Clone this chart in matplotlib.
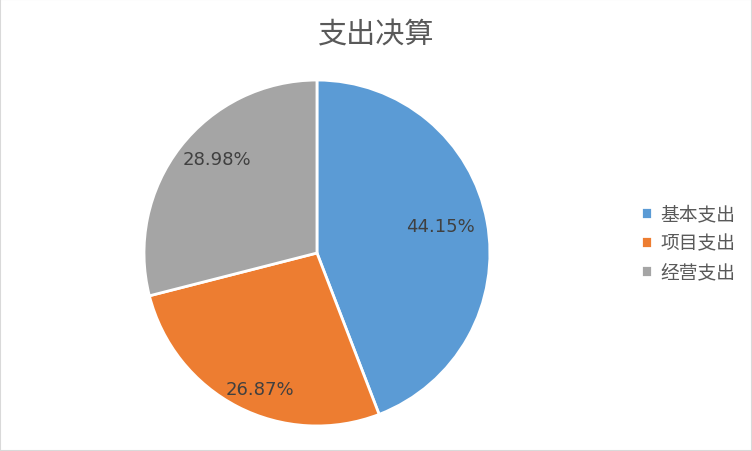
import numpy as np
import matplotlib.pyplot as plt
from matplotlib.patches import Rectangle

plt.rcParams['font.family'] = ['Noto Sans CJK SC', 'DejaVu Sans']

categories = ["基本支出", "项目支出", "经营支出"]
values = [44.15, 26.87, 28.98]
colors = ["#5B9BD5", "#ED7D31", "#A5A5A5"]
title = "支出决算"

fig = plt.figure(figsize=(7.52, 4.52), dpi=100)
ax = fig.add_axes([0.1915, 0.0553, 0.460, 0.7655])

wedges, texts, autotexts = ax.pie(
    values, colors=colors, startangle=90, counterclock=False,
    autopct=lambda p: f"{p:.2f}%", pctdistance=0.8,
    wedgeprops=dict(edgecolor="white", linewidth=2),
    textprops=dict(color="#404040", fontsize=13, family="DejaVu Sans"))
ax.set_aspect("equal")
ax.set_xlim(-1, 1)
ax.set_ylim(-1, 1)

# Excel's "best fit" label spots: radius and angle shift from slice middle
label_r = [0.73, 0.85, 0.79]
label_shift = [2, 4.6, -5.4]
for w, t, r, d in zip(wedges, autotexts, label_r, label_shift):
    a = np.deg2rad((w.theta1 + w.theta2) / 2 + d)
    t.set_position((r * np.cos(a), r * np.sin(a)))

fig.text(0.5, 1 - 35 / 452, title, ha="center", va="center",
         fontsize=21, color="#595959")

leg = fig.legend(wedges, categories, loc="center left",
                 bbox_to_anchor=(0.83, 0.46), frameon=False,
                 fontsize=13.5, handlelength=0.6, handleheight=0.6,
                 handletextpad=0.45, labelspacing=0.42)
for t in leg.get_texts():
    t.set_color("#595959")

fig.patches.append(Rectangle((0, 0), 1, 1, transform=fig.transFigure,
                             fill=False, edgecolor="#D9D9D9", linewidth=1.5))

plt.savefig("out.png", dpi=100)
